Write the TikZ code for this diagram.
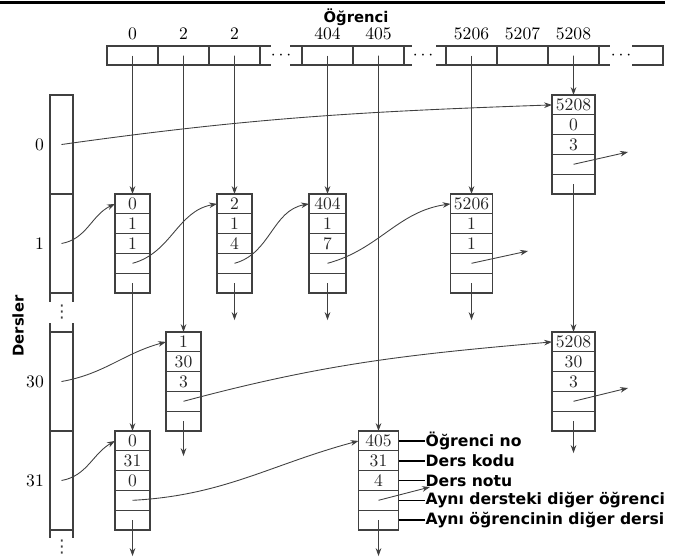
\documentclass[tikz,border=0pt]{standalone}
\usepackage{fontspec}
\newfontfamily\headfont{DejaVu Sans}
\usetikzlibrary{arrows.meta,calc,positioning}
\tikzset{
    row/.style={draw=black!75, line width=0.5pt, minimum height=0.396cm,
                inner sep=0pt, outer sep=0pt, text=black!85},
    recframe/.style={draw=black!75, line width=1pt},
    stucell/.style={draw=black!75, line width=0.7pt, minimum width=1.02cm,
                    minimum height=0.38cm, inner sep=0pt, outer sep=0pt},
    coursecell/.style={draw=black!75, line width=0.7pt, minimum width=0.46cm,
                       minimum height=1.98cm, inner sep=0pt, outer sep=0pt},
    edge/.style={draw=black!75, line width=0.7pt},
    link/.style={-{Stealth[length=4.5pt,width=3.2pt]}, line width=0.5pt, draw=black!75},
    legend/.style={font=\headfont\bfseries\fontsize{8.9}{10}\selectfont,
                   inner sep=0.5pt, anchor=west},
    legline/.style={line width=0.9pt},
    head/.style={font=\headfont\bfseries\fontsize{8.4}{10}\selectfont},
    vdotsbox/.style={font=\headfont\fontsize{10}{10}\selectfont, inner sep=0pt, text=black!75},
}
% one record: name, top row centre, student no, course no, grade
\newcommand{\recbox}[6][0.7cm]{
    \node[row, minimum width=#1] (#2-1) at #3 {#4};
    \node[row, minimum width=#1, below=0pt of #2-1] (#2-2) {#5};
    \node[row, minimum width=#1, below=0pt of #2-2] (#2-3) {#6};
    \node[row, minimum width=#1, below=0pt of #2-3] (#2-4) {};
    \node[row, minimum width=#1, below=0pt of #2-4] (#2-5) {};
    \draw[recframe] (#2-1.north west) rectangle (#2-5.south east);
}

\begin{document}
\begin{tikzpicture}[x=0.02cm, y=0.02cm]
    \path[use as bounding box] (0,0) rectangle (675,-556);
    \draw[line width=0.06cm] (0,-2) -- (665,-2);

    % student array
    \node[head] (students) at (356,-17) {Öğrenci};
    \node[stucell, label=above:0] (s0) at (132.5,-55.5) {};
    \node[stucell, label=above:2, right=0pt of s0] (s2a) {};
    \node[stucell, label=above:2, right=0pt of s2a] (s2b) {};
    \draw[edge] (s2b.north east) -- ++(11,0) (s2b.south east) -- ++(11,0);
    \node (dots1) at (281,-56) {$\cdots$};
    \node[stucell, label=above:404] (s404) at (327.5,-55.5) {};
    \node[stucell, label=above:405, right=0pt of s404] (s405) {};
    \draw[edge] (s404.north west) -- ++(-12,0) (s404.south west) -- ++(-12,0);
    \draw[edge] (s405.north east) -- ++(8,0) (s405.south east) -- ++(8,0);
    \node (dots2) at (423,-56) {$\cdots$};
    \node[stucell, label=above:5206] (s5206) at (471.5,-55.5) {};
    \node[stucell, label=above:5207, right=0pt of s5206] (s5207) {};
    \node[stucell, label=above:5208, right=0pt of s5207] (s5208) {};
    \draw[edge] (s5206.north west) -- ++(-10,0) (s5206.south west) -- ++(-10,0);
    \draw[edge] (s5208.north east) -- ++(11,0) (s5208.south east) -- ++(11,0);
    \node (dots3) at (621,-56) {$\cdots$};
    \draw[edge] (632,-46) -- (663,-46) -- (663,-65) -- (632,-65);

    % course array
    \node[head, rotate=90] (courses) at (18,-326) {Dersler};
    \node[coursecell, label=left:0] (c0) at (61.5,-144.5) {};
    \node[coursecell, label=left:1, below=0pt of c0] (c1) {};
    \draw[edge] (c1.south west) -- ++(0,-9) (c1.south east) -- ++(0,-9);
    \node[vdotsbox] (vdots1) at (62,-312.5) {⋮};
    \node[coursecell, label=left:30] (c30) at (61.5,-381.5) {};
    \node[coursecell, label=left:31, below=0pt of c30] (c31) {};
    \draw[edge] (c30.north west) -- ++(0,9) (c30.north east) -- ++(0,9);
    \draw[edge] (c31.south west) -- ++(0,-8) (c31.south east) -- ++(0,-8);
    \node[vdotsbox] (vdots2) at (62,-547) {⋮};

    % records
    \recbox[0.86cm]{r5208a}{(573.5,-104.9)}{5208}{0}{3}
    \recbox{r0a}{(132.5,-203.9)}{0}{1}{1}
    \recbox{r2b}{(234.5,-203.9)}{2}{1}{4}
    \recbox[0.74cm]{r404}{(327.5,-203.9)}{404}{1}{7}
    \recbox[0.84cm]{r5206}{(471.5,-203.9)}{5206}{1}{1}
    \recbox{r2a}{(183.5,-341.9)}{1}{30}{3}
    \recbox[0.86cm]{r5208b}{(573.5,-341.9)}{5208}{30}{3}
    \recbox{r0b}{(132.5,-440.9)}{0}{31}{0}
    \recbox[0.8cm]{r405}{(378.5,-440.9)}{405}{31}{4}

    % free ends
    \coordinate (e5208a) at (628,-152);
    \coordinate (e5206) at (528,-251);
    \coordinate (e5208b) at (628,-388);
    \coordinate (e405r) at (430,-487);
    \coordinate (e2b) at ($(r2b-5.center)+(0,-37)$);
    \coordinate (e404) at ($(r404-5.center)+(0,-37)$);
    \coordinate (e5206d) at ($(r5206-5.center)+(0,-37)$);
    \coordinate (e2a) at ($(r2a-5.center)+(0,-35)$);
    \coordinate (e5208d) at ($(r5208b-5.center)+(0,-32)$);
    \coordinate (e0b) at ($(r0b-5.center)+(0,-36)$);
    \coordinate (e405d) at ($(r405-5.center)+(0,-36)$);

    % student lists
    \draw[link] (s0.center) -- (r0a-1.north);
    \draw[link] (s2a.center) -- (r2a-1.north);
    \draw[link] (s2b.center) -- (r2b-1.north);
    \draw[link] (s404.center) -- (r404-1.north);
    \draw[link] (s405.center) -- (r405-1.north);
    \draw[link] (s5206.center) -- (r5206-1.north);
    \draw[link] (s5208.center) -- (r5208a-1.north);
    \draw[link] (r0a-5.center) -- (r0b-1.north);
    \draw[link] (r5208a-5.center) -- (r5208b-1.north);
    \draw[link] (r2b-5.center) -- (e2b);
    \draw[link] (r404-5.center) -- (e404);
    \draw[link] (r5206-5.center) -- (e5206d);
    \draw[link] (r2a-5.center) -- (e2a);
    \draw[link] (r5208b-5.center) -- (e5208d);
    \draw[link] (r0b-5.center) -- (e0b);
    \draw[link] (r405-5.center) -- (e405d);

    % course lists
    \draw[link] (c0.center) to[out=8, in=182] (r5208a-1.west);
    \draw[link] (r5208a-4.center) -- (e5208a);
    \draw[link] (c1.center) to[out=10, in=205] (r0a-1.west);
    \draw[link] (r0a-4.center) to[out=15, in=190] (r2b-1.west);
    \draw[link] (r2b-4.center) to[out=15, in=190] (r404-1.west);
    \draw[link] (r404-4.center) to[out=15, in=188] (r5206-1.west);
    \draw[link] (r5206-4.center) -- (e5206);
    \draw[link] (c30.center) to[out=10, in=195] (r2a-1.west);
    \draw[link] (r2a-4.center) to[out=15, in=185] (r5208b-1.west);
    \draw[link] (r5208b-4.center) -- (e5208b);
    \draw[link] (c31.center) to[out=10, in=210] (r0b-1.west);
    \draw[link] (r0b-4.center) to[out=3, in=195] (r405-1.west);
    \draw[link] (r405-4.center) -- (e405r);

    % field names
    \node[legend, right=0.52cm of r405-1.east] (lg1) {Öğrenci no};
    \node[legend, right=0.52cm of r405-2.east] (lg2) {Ders kodu};
    \node[legend, right=0.52cm of r405-3.east] (lg3) {Ders notu};
    \node[legend, right=0.52cm of r405-4.east] (lg4) {Aynı dersteki diğer öğrenci};
    \node[legend, right=0.52cm of r405-5.east] (lg5) {Aynı öğrencinin diğer dersi};
    \foreach \k in {1,...,5}
        \draw[legline] (r405-\k.east) -- (lg\k.west);
\end{tikzpicture}
\end{document}
